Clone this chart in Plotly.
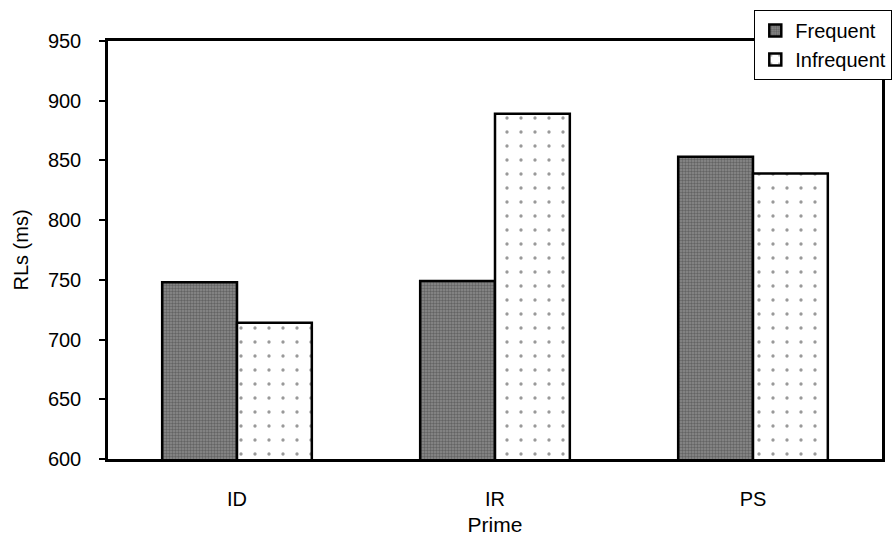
import plotly.graph_objects as go

categories = ["ID", "IR", "PS"]
frequent = [748, 749, 853]
infrequent = [714, 889, 839]
y_ticks = [600, 650, 700, 750, 800, 850, 900, 950]

FONT = "Liberation Sans, Arial, sans-serif"

fig = go.Figure()
fig.add_trace(go.Bar(
    x=categories, y=frequent, name="Frequent",
    marker=dict(color="#6a6a6a", line=dict(color="black", width=2.5),
                pattern=dict(shape=".", fgcolor="#3a3a3a", bgcolor="#8c8c8c",
                             size=3, solidity=0.5)),
))
fig.add_trace(go.Bar(
    x=categories, y=infrequent, name="Infrequent",
    marker=dict(color="white", line=dict(color="black", width=2.5),
                pattern=dict(shape=".", fgcolor="#333333", bgcolor="white",
                             size=14, solidity=0.045)),
))

fig.update_layout(
    width=892, height=540,
    margin=dict(l=108, r=10, t=41, b=81, autoexpand=False),
    paper_bgcolor="white", plot_bgcolor="white",
    barmode="group", bargap=0.42, bargroupgap=0,
    font=dict(family=FONT, size=20, color="black"),
    showlegend=True,
    legend=dict(x=0.835, y=1.074, xanchor="left", yanchor="top",
                bgcolor="white", bordercolor="black", borderwidth=1,
                font=dict(size=20), tracegroupgap=0, itemwidth=30),
    xaxis=dict(showline=True, linecolor="black", linewidth=2.5, mirror=True,
               ticks="", ticklabelstandoff=20, automargin=False,
               title=dict(text="Prime", font=dict(size=21), standoff=9)),
    yaxis=dict(range=[600, 950], tickvals=y_ticks, showline=True,
               linecolor="black", linewidth=2.5, mirror=True,
               ticks="outside", ticklen=6, tickcolor="black", tickwidth=1.5,
               ticklabelstandoff=14, showgrid=False, zeroline=False,
               automargin=False,
               title=dict(text="RLs (ms)", font=dict(size=20), standoff=14)),
)

fig.write_html("out.html")
